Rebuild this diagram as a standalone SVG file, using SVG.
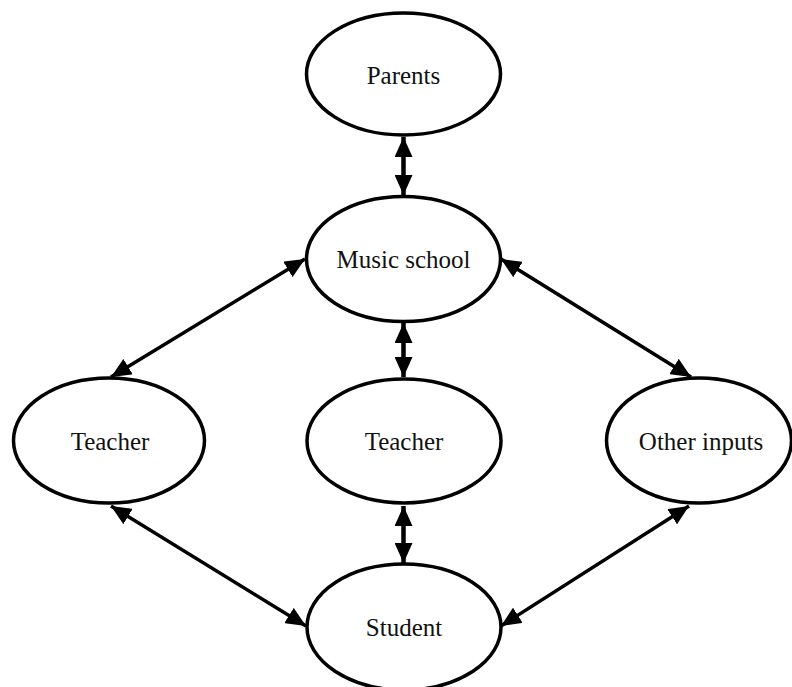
<svg xmlns="http://www.w3.org/2000/svg" width="792" height="687" viewBox="0 0 792 687">
  <defs>
    <style>
      .node ellipse { fill: #ffffff; stroke: #000000; stroke-width: 3.5; }
      .node text { font-family: "Liberation Serif", "DejaVu Serif", serif; font-size: 25px; fill: #111111; text-anchor: middle; dominant-baseline: central; }
      .edge { stroke: #000000; stroke-width: 3.5; fill: none; marker-start: url(#arrow); marker-end: url(#arrow); }
      .edge.short { stroke-width: 4.5; }
    </style>
    <marker id="arrow" viewBox="0 0 20 18" refX="20" refY="9" markerWidth="20" markerHeight="18" markerUnits="userSpaceOnUse" orient="auto-start-reverse">
      <path d="M0,0 L20,9 L0,18 z" fill="#000000"/>
    </marker>
  </defs>
  <rect width="792" height="687" fill="#ffffff"/>

  <g id="connectors">
    <line class="edge short" x1="403.5" y1="137" x2="403.5" y2="195"/>
    <line class="edge short" x1="403.5" y1="323" x2="403.5" y2="377"/>
    <line class="edge short" x1="403.5" y1="506" x2="403.5" y2="563"/>
    <line class="edge" x1="305" y1="259" x2="111" y2="377"/>
    <line class="edge" x1="501" y1="259" x2="691" y2="377"/>
    <line class="edge" x1="111" y1="506" x2="306" y2="626"/>
    <line class="edge" x1="689" y1="506" x2="501" y2="626"/>
  </g>

  <g id="parents" class="node">
    <ellipse cx="403.5" cy="74" rx="97" ry="61"/>
    <text x="403.5" y="75">Parents</text>
  </g>
  <g id="music-school" class="node">
    <ellipse cx="403.5" cy="259" rx="97" ry="62.5"/>
    <text x="403.5" y="259">Music school</text>
  </g>
  <g id="teacher-left" class="node">
    <ellipse cx="109" cy="440.5" rx="95.5" ry="62.5"/>
    <text x="110" y="441">Teacher</text>
  </g>
  <g id="teacher-center" class="node">
    <ellipse cx="404" cy="441" rx="97" ry="62"/>
    <text x="404" y="441">Teacher</text>
  </g>
  <g id="other-inputs" class="node">
    <ellipse cx="699" cy="440.5" rx="92.5" ry="62.5"/>
    <text x="701" y="441">Other inputs</text>
  </g>
  <g id="student" class="node">
    <ellipse cx="404" cy="627" rx="97" ry="63"/>
    <text x="404" y="627">Student</text>
  </g>
</svg>
